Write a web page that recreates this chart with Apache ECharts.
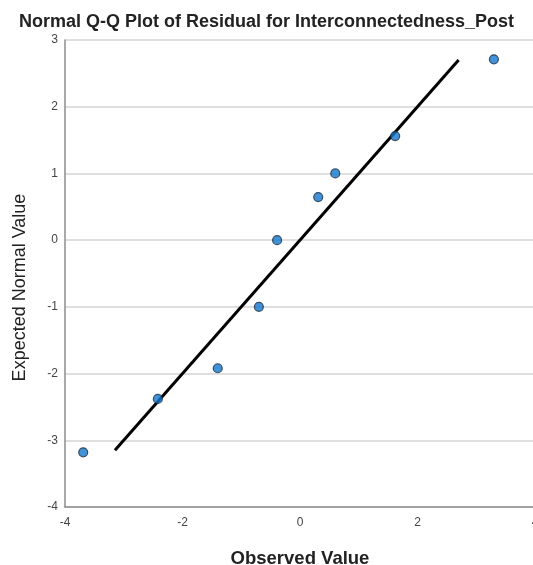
<!DOCTYPE html>
<html><head><meta charset="utf-8">
<script src="https://cdn.jsdelivr.net/npm/echarts@6/dist/echarts.min.js"></script>
<style>html,body{margin:0;padding:0;background:#fff}#c{width:533px;height:565px}</style>
</head><body><div id="c"></div>
<script>
const observed = [3.30, 1.62, 0.60, 0.31, -0.39, -0.70, -1.40, -2.42, -3.69];
const expected = [2.71, 1.56, 1.00, 0.645, 0.00, -1.00, -1.92, -2.38, -3.18];
const refLineX = [-3.15, 2.70];
const refLineY = [-3.15, 2.70];
const titleText = 'Normal Q-Q Plot of Residual for Interconnectedness_Post';

const chart = echarts.init(document.getElementById('c'), null, {renderer: 'canvas'});
chart.setOption({
  animation: false,
  backgroundColor: '#fff',
  title: {
    text: titleText, left: 'center', top: 8,
    textStyle: {fontFamily: 'Liberation Sans', fontWeight: 'bold', fontSize: 18, color: '#222'}
  },
  grid: {left: 65, top: 40, width: 470, height: 467, containLabel: false, outerBoundsMode: 'none'},
  xAxis: {
    type: 'value', min: -4, max: 4, interval: 2,
    name: 'Observed Value', nameLocation: 'middle', nameGap: 42,
    nameTextStyle: {fontFamily: 'Liberation Sans', fontSize: 18.5, color: '#222', fontWeight: 'bold'},
    axisLine: {onZero: false, lineStyle: {color: '#8c8c8c', width: 1.5}},
    axisTick: {show: false},
    axisLabel: {fontFamily: 'Liberation Sans', fontSize: 12, color: '#444', margin: 10},
    splitLine: {show: false}
  },
  yAxis: {
    type: 'value', min: -4, max: 3, interval: 1,
    name: 'Expected Normal Value', nameLocation: 'middle', nameGap: 36,
    nameTextStyle: {fontFamily: 'Liberation Sans', fontSize: 18, color: '#222', padding: [0, 28, 0, 0]},
    axisLine: {onZero: false, lineStyle: {color: '#8c8c8c', width: 1.5}},
    axisTick: {show: false},
    axisLabel: {fontFamily: 'Liberation Sans', fontSize: 12, color: '#444', margin: 7},
    splitLine: {lineStyle: {color: '#d4d4d4', width: 1.5}}
  },
  series: [
    {
      type: 'line',
      data: refLineX.map((x, i) => [x, refLineY[i]]),
      showSymbol: false, symbol: 'none',
      lineStyle: {color: '#000', width: 3},
      z: 2
    },
    {
      type: 'scatter',
      data: observed.map((x, i) => [x, expected[i]]),
      symbol: 'circle', symbolSize: 9,
      itemStyle: {color: '#1277cc', borderColor: '#1d2f45', borderWidth: 1.2},
      z: 3
    }
  ]
});
</script></body></html>
